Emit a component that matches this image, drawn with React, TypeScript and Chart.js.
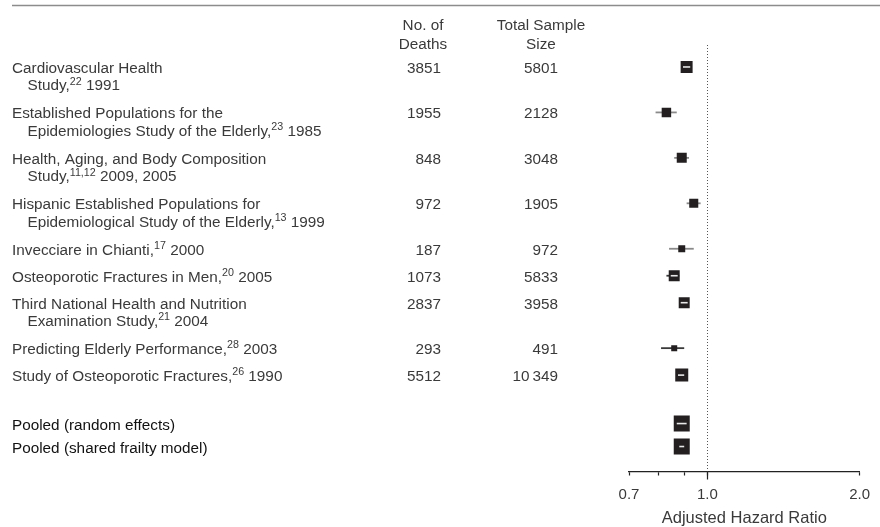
import React, { useEffect, useRef } from "react";
import { Chart, registerables } from "chart.js";

Chart.register(...registerables);

// ---------- data ----------
const studyLabels: string[][] = [
  ["Cardiovascular Health", "Study,^22^ 1991"],
  ["Established Populations for the", "Epidemiologies Study of the Elderly,^23^ 1985"],
  ["Health, Aging, and Body Composition", "Study,^11,12^ 2009, 2005"],
  ["Hispanic Established Populations for", "Epidemiological Study of the Elderly,^13^ 1999"],
  ["Invecciare in Chianti,^17^ 2000"],
  ["Osteoporotic Fractures in Men,^20^ 2005"],
  ["Third National Health and Nutrition", "Examination Study,^21^ 2004"],
  ["Predicting Elderly Performance,^28^ 2003"],
  ["Study of Osteoporotic Fractures,^26^ 1990"],
];
const deaths = [3851, 1955, 848, 972, 187, 1073, 2837, 293, 5512];
const sampleSizes = [5801, 2128, 3048, 1905, 972, 5833, 3958, 491, 10349];
const studyHR = [0.91, 0.83, 0.89, 0.94, 0.89, 0.86, 0.9, 0.86, 0.89];
const studyLower = [0.895, 0.79, 0.86, 0.91, 0.84, 0.83, 0.88, 0.81, 0.875];
const studyUpper = [0.925, 0.87, 0.92, 0.97, 0.94, 0.88, 0.92, 0.9, 0.9];
const studyWeights = [56, 35, 39, 32, 19, 47, 47, 14, 66];

const pooledLabels = ["Pooled (random effects)", "Pooled (shared frailty model)"];
const pooledHR = [0.89, 0.89];
const pooledLower = [0.87, 0.88];
const pooledUpper = [0.91, 0.9];
const pooledWeights = [100, 100];

const deathsHeader = ["No. of", "Deaths"];
const sampleHeader = ["Total Sample", "Size"];
const xTickValues = [0.7, 0.8, 0.9, 1.0, 2.0];
const xTickLabels = ["0.7", "", "", "1.0", "2.0"];
const xTitle = "Adjusted Hazard Ratio";

// ---------- layout helpers ----------
const FONT = "'Liberation Sans', Arial, Helvetica, sans-serif";
const TEXT_COLOR = "#3a3a3a";
const LINE_H = 17.5;

function buildRows() {
  const rows: { y: number; lines: string[]; hr: number; lo: number; hi: number; w: number; pooled: boolean; idx: number }[] = [];
  let y = 22;
  studyLabels.forEach((lines, i) => {
    rows.push({ y, lines, hr: studyHR[i], lo: studyLower[i], hi: studyUpper[i], w: studyWeights[i], pooled: false, idx: i });
    y += 27 + (lines.length - 1) * 18.5;
  });
  y += 21.5;
  pooledLabels.forEach((l, i) => {
    rows.push({ y, lines: [l], hr: pooledHR[i], lo: pooledLower[i], hi: pooledUpper[i], w: pooledWeights[i], pooled: true, idx: i });
    y += 23;
  });
  return rows;
}

function sizeFromWeight(w: number) {
  return 16 * Math.sqrt(w / 100);
}

function fmtNum(n: number) {
  const s = String(n);
  return s.length > 4 ? s.replace(/\B(?=(\d{3})+(?!\d))/g, "\u2009") : s;
}

function drawRich(ctx: CanvasRenderingContext2D, text: string, x: number, baseline: number, size: number) {
  const parts = text.split("^");
  let cx = x;
  parts.forEach((p, k) => {
    if (!p) return;
    if (k % 2 === 1) {
      ctx.font = `${size * 0.7}px ${FONT}`;
      ctx.fillText(p, cx, baseline - size * 0.38);
    } else {
      ctx.font = `${size}px ${FONT}`;
      ctx.fillText(p, cx, baseline);
    }
    cx += ctx.measureText(p).width;
  });
}

export default function App() {
  const ref = useRef<HTMLCanvasElement | null>(null);

  useEffect(() => {
    document.body.style.margin = "0";
    const canvas = ref.current;
    if (!canvas) return;
    const rows = buildRows();

    const forestPlugin = {
      id: "forest",
      beforeDatasetsDraw(chart: any) {
        const { ctx, chartArea, scales } = chart;
        const xs = scales.x;
        const ys = scales.y;
        ctx.save();
        // reference line at 1.0
        const x1 = xs.getPixelForValue(1);
        ctx.strokeStyle = "#555";
        ctx.lineWidth = 1;
        ctx.setLineDash([1, 2]);
        ctx.beginPath();
        ctx.moveTo(Math.round(x1) + 0.5, chartArea.top);
        ctx.lineTo(Math.round(x1) + 0.5, chartArea.bottom);
        ctx.stroke();
        ctx.setLineDash([]);
        // CI lines
        rows.forEach((r) => {
          const y = ys.getPixelForValue(r.y);
          ctx.strokeStyle = r.idx >= 5 && !r.pooled ? "#3a3a3a" : "#8a8a8a";
          ctx.lineWidth = 1.8;
          ctx.beginPath();
          ctx.moveTo(xs.getPixelForValue(r.lo), y);
          ctx.lineTo(xs.getPixelForValue(r.hi), y);
          ctx.stroke();
        });
        ctx.restore();
      },
      afterDatasetsDraw(chart: any) {
        const { ctx, scales } = chart;
        const xs = scales.x;
        const ys = scales.y;
        ctx.save();
        rows.forEach((r) => {
          const s = sizeFromWeight(r.w);
          if (s < 10.5) return;
          const y = ys.getPixelForValue(r.y);
          const cx = xs.getPixelForValue(r.hr);
          const a = Math.max(xs.getPixelForValue(r.lo), cx - s / 2 + 2);
          const b = Math.min(xs.getPixelForValue(r.hi), cx + s / 2 - 2);
          if (b <= a) return;
          ctx.strokeStyle = "#e8e8e8";
          ctx.lineWidth = 1.6;
          ctx.beginPath();
          ctx.moveTo(a, y);
          ctx.lineTo(b, y);
          ctx.stroke();
        });
        ctx.restore();
      },
      afterDraw(chart: any) {
        const { ctx, scales, chartArea } = chart;
        const ys = scales.y;
        const xs = scales.x;
        ctx.save();
        // top rule
        ctx.strokeStyle = "#8c8c8c";
        ctx.lineWidth = 1.5;
        ctx.beginPath();
        ctx.moveTo(12, 5.5);
        ctx.lineTo(880, 5.5);
        ctx.stroke();
        // longer tick at 1.0
        const x1 = Math.round(xs.getPixelForValue(1)) + 0.5;
        ctx.strokeStyle = "#222";
        ctx.lineWidth = 1.2;
        ctx.beginPath();
        ctx.moveTo(x1, chartArea.bottom);
        ctx.lineTo(x1, chartArea.bottom + 8);
        ctx.stroke();

        ctx.fillStyle = TEXT_COLOR;
        ctx.textBaseline = "alphabetic";
        const size = 15.3;
        ctx.font = `${size}px ${FONT}`;
        // headers
        ctx.textAlign = "center";
        deathsHeader.forEach((h, i) => ctx.fillText(h, 423, 29.5 + i * 19));
        sampleHeader.forEach((h, i) => ctx.fillText(h, 541, 29.5 + i * 19));
        // rows
        rows.forEach((r) => {
          const y = ys.getPixelForValue(r.y);
          const base = y + 6;
          ctx.fillStyle = r.pooled ? "#111" : TEXT_COLOR;
          ctx.textAlign = "left";
          r.lines.forEach((l, li) => {
            drawRich(ctx, l, li === 0 ? 12 : 27.5, base + li * LINE_H, size);
          });
          if (!r.pooled) {
            ctx.font = `${size}px ${FONT}`;
            ctx.textAlign = "right";
            ctx.fillText(fmtNum(deaths[r.idx]), 441, base);
            ctx.fillText(fmtNum(sampleSizes[r.idx]), 558, base);
          }
        });
        ctx.restore();
      },
    };

    const chart = new Chart(canvas, {
      type: "scatter",
      data: {
        datasets: [
          {
            data: rows.map((r) => ({ x: r.hr, y: r.y })),
            pointStyle: "rect",
            pointRadius: rows.map((r) => sizeFromWeight(r.w) / Math.SQRT2),
            pointHoverRadius: rows.map((r) => sizeFromWeight(r.w) / Math.SQRT2),
            backgroundColor: "#231f20",
            borderWidth: 0,
          },
        ],
      },
      options: {
        responsive: false,
        animation: false,
        devicePixelRatio: 1,
        events: [],
        layout: { padding: { left: 629, right: 20, top: 45, bottom: 0 } },
        plugins: { legend: { display: false }, tooltip: { enabled: false } },
        scales: {
          x: {
            type: "logarithmic",
            min: 0.7,
            max: 2.0,
            afterBuildTicks: (scale: any) => {
              scale.ticks = xTickValues.map((v) => ({ value: v }));
            },
            ticks: {
              autoSkip: false,
              maxRotation: 0,
              padding: 10,
              color: "#3a3a3a",
              font: { family: FONT, size: 15 },
              callback: (_v: any, i: number) => xTickLabels[i],
            },
            grid: { drawOnChartArea: false, drawTicks: true, tickLength: 4, color: "#222", tickWidth: 1.2 },
            border: { display: true, color: "#222", width: 1.3 },
            title: {
              display: true,
              text: xTitle,
              color: "#3a3a3a",
              font: { family: FONT, size: 16.5, lineHeight: 1.0 },
              padding: { top: -3, bottom: 0 },
            },
          },
          y: { type: "linear", min: 0, max: 427, reverse: true, display: false },
        },
      },
      plugins: [forestPlugin],
    } as any);
    return () => chart.destroy();
  }, []);

  return <canvas ref={ref} width={880} height={527} style={{ display: "block" }} />;
}
